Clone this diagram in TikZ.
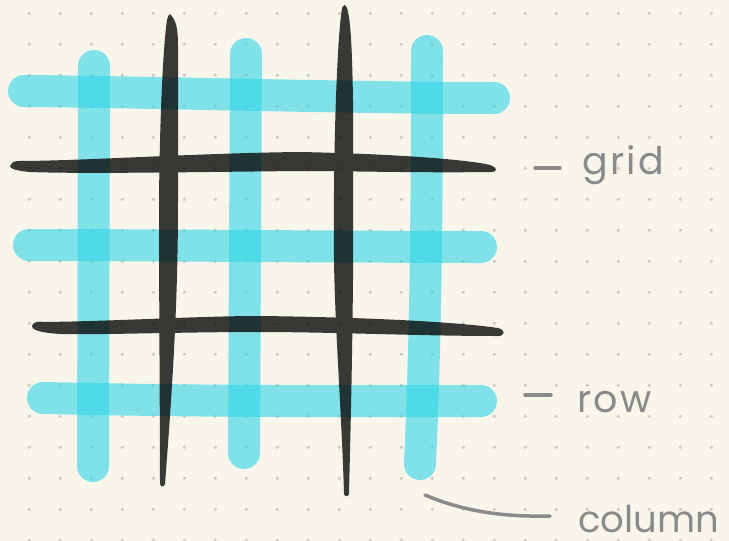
\documentclass[tikz,border=0pt]{standalone}
\usepackage{fontspec}
\newfontfamily\handfont{Poppins}
\newfontfamily\handwide[LetterSpace=6]{Poppins}
\definecolor{paper}{RGB}{248,246,234}
\definecolor{dotgray}{RGB}{205,202,192}
\definecolor{markercyan}{RGB}{49,213,231}
\definecolor{inkblack}{RGB}{5,5,5}
\definecolor{pencil}{RGB}{138,138,138}

\begin{document}
\begin{tikzpicture}[x=1pt, y=-1pt,
  hl/.style={draw=markercyan, line width=32pt, line cap=round, opacity=0.6},
  ink/.style={fill=inkblack},
  pen/.style={draw=pencil, line width=3.5pt, line cap=round},
  lbl/.style={anchor=base west, inner sep=0pt, text=pencil, font=\handfont\fontsize{37}{44}\selectfont},
  widelbl/.style={lbl, font=\handwide\fontsize{38}{44}\selectfont}]
% Paper
\fill[paper] (0,0) rectangle (729,541);
\useasboundingbox (0,0) rectangle (729,541);
\foreach \i in {0,...,22}
  \foreach \j in {0,...,17}
    \fill[dotgray] (29.3+31*\i, 13.3+31*\j) circle (1.8pt);

% Highlighter strokes
\draw[hl] (94,66) -- (93,466);
\draw[hl] (246,54) -- (244,453);
\draw[hl] (427,51) .. controls (427,200) and (426,330) .. (420,464);
\draw[hl] (24,91) .. controls (150,92) and (350,98) .. (494,98);
\draw[hl] (29,245) .. controls (150,245) and (350,247) .. (481,247);
\draw[hl] (43,398) .. controls (100,399) and (200,402) .. (481,401);

% Ink strokes
\begin{scope}[transparency group, opacity=0.79]
\fill[ink] (170,14) .. controls (176,20) and (178,28) .. (178,45) -- (178,200)
  .. controls (178,300) and (173,380) .. (165,484)
  .. controls (164,487) and (161,487) .. (160,484)
  .. controls (160,420) and (159,300) .. (159,200)
  .. controls (160,100) and (164,40) .. (167,20)
  .. controls (168,16) and (169,14) .. (170,14) -- cycle;
\fill[ink] (345,5) .. controls (350,8) and (352,40) .. (353,100) -- (353,280)
  .. controls (352,380) and (350,450) .. (349,494)
  .. controls (348,497) and (345,497) .. (344,494)
  .. controls (342,420) and (335,330) .. (334,260)
  .. controls (333,150) and (337,40) .. (342,8)
  .. controls (343,6) and (344,5) .. (345,5) -- cycle;
\fill[ink] (10,166) .. controls (11,163) and (14,161) .. (18,161)
  .. controls (80,161) and (200,153) .. (300,152)
  .. controls (400,154) and (470,160) .. (490,165)
  .. controls (498,168) and (497,172) .. (492,172)
  .. controls (420,173) and (350,171) .. (300,171)
  .. controls (200,172) and (80,174) .. (30,172)
  .. controls (18,171) and (10,169) .. (10,166) -- cycle;
\fill[ink] (32,326) .. controls (33,322) and (38,321) .. (45,322)
  .. controls (120,321) and (200,316) .. (260,316)
  .. controls (350,317) and (450,321) .. (498,328)
  .. controls (506,330) and (505,336) .. (498,336)
  .. controls (420,336) and (330,332) .. (260,332)
  .. controls (180,332) and (100,335) .. (60,334)
  .. controls (45,333) and (32,331) .. (32,326) -- cycle;
\end{scope}

% Labels
\node[widelbl] (gridlbl) at (582,174) {grid};
\node[widelbl] (rowlbl) at (577,412) {row};
\node[lbl] (collbl) at (578,532) {column};
\draw[pen] ([shift={(-22,-6)}]gridlbl.base west) -- ++(-25,0);
\draw[pen] ([shift={(-26,-17)}]rowlbl.base west) -- ++(-26,0);
\coordinate (colTail) at (425,495);
\draw[pen] (colTail) .. controls (465,512) and (505,517) .. ([shift={(-28,-16)}]collbl.base west);
\end{tikzpicture}
\end{document}
